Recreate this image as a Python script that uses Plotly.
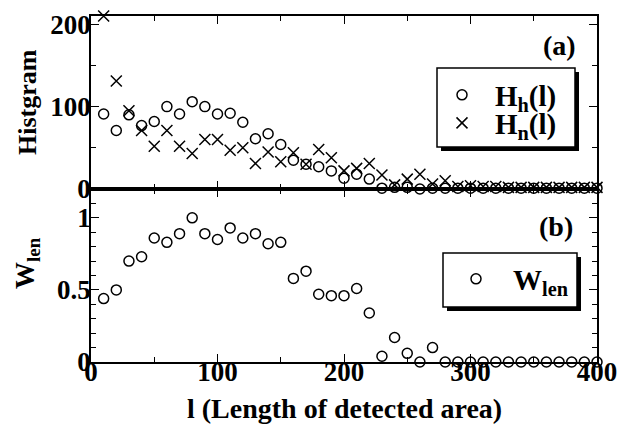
import plotly.graph_objects as go

# ---- data ----
lengths = [10, 20, 30, 40, 50, 60, 70, 80, 90, 100, 110, 120, 130, 140, 150, 160, 170, 180, 190, 200,
           210, 220, 230, 240, 250, 260, 270, 280, 290, 300, 310, 320, 330, 340, 350, 360, 370, 380, 390, 400]
H_h = [91, 71, 90, 77, 82, 100, 91, 106, 100, 91, 92, 81, 61, 67, 54, 35, 30, 27, 22, 13,
       18, 12, 1, 2, 2, 0, 1, 1, 1, 1, 1, 1, 1, 1, 1, 1, 1, 1, 1, 1]
H_n = [210, 131, 95, 71, 52, 71, 52, 43, 60, 60, 47, 50, 31, 45, 33, 44, 30, 48, 38, 22,
       25, 31, 17, 5, 12, 18, 6, 10, 3, 4, 3, 3, 2, 2, 2, 2, 2, 2, 2, 2]
W_len = [0.44, 0.50, 0.70, 0.73, 0.86, 0.83, 0.89, 1.00, 0.89, 0.85, 0.93, 0.86, 0.89, 0.82, 0.83, 0.58,
         0.63, 0.47, 0.46, 0.46, 0.51, 0.34, 0.04, 0.17, 0.06, 0.00, 0.10, 0, 0, 0, 0, 0, 0, 0, 0, 0, 0, 0, 0, 0]

x_ticks = [0, 100, 200, 300, 400]
hist_ticks = [0, 100, 200]
w_ticks = [0, 0.5, 1]

FONT = "Liberation Serif, Times New Roman, Times, serif"
W, H = 617, 433
ML, MR, MT, MB = 91, 20, 16, 71
pw, ph = W - ML - MR, H - MT - MB


def px_to_paper(px, py):
    return (px - ML) / pw, 1 - (py - MT) / ph


fig = go.Figure()
circ = dict(symbol="circle-open", size=10, color="black", line=dict(width=1.5, color="black"))
cross = dict(symbol="x-thin-open", size=11, color="black", line=dict(width=1.5, color="black"))

fig.add_trace(go.Scatter(x=lengths, y=H_h, mode="markers", marker=circ, name="H<sub>h</sub>(l)",
                         xaxis="x2", yaxis="y", cliponaxis=False, legend="legend"))
fig.add_trace(go.Scatter(x=lengths, y=H_n, mode="markers", marker=cross, name="H<sub>n</sub>(l)",
                         xaxis="x2", yaxis="y", cliponaxis=False, legend="legend3"))
fig.add_trace(go.Scatter(x=lengths, y=W_len, mode="markers", marker=circ, name="W<sub>len</sub>",
                         xaxis="x", yaxis="y2", cliponaxis=False, legend="legend2"))

tickfont = dict(family=FONT, size=27, color="black", weight="bold")
axcommon = dict(showgrid=False, zeroline=False, showline=True, linecolor="black", linewidth=1.5,
                ticks="inside", tickcolor="black", tickwidth=1.2, mirror="allticks", tickfont=tickfont,
                ticklabeloverflow="allow", automargin=False)
minor_x = dict(ticks="inside", dtick=50, ticklen=5, tickcolor="black", tickwidth=1.2)

fig.update_layout(
    width=W, height=H, margin=dict(l=ML, r=MR, t=MT, b=MB, autoexpand=False),
    paper_bgcolor="white", plot_bgcolor="white",
    font=dict(family=FONT, color="black"),
    xaxis=dict(**axcommon, domain=[0, 1], anchor="y2", range=[0, 400], tickvals=x_ticks, ticklen=8,
               ticklabelstandoff=-15, minor=minor_x),
    xaxis2=dict(**axcommon, domain=[0, 1], anchor="y", range=[0, 400], tickvals=x_ticks, ticklen=8,
                showticklabels=False, matches="x", minor=minor_x),
    yaxis=dict(**axcommon, domain=[0.5, 1], anchor="x2", range=[0, 210], tickvals=hist_ticks, ticklen=8,
               ticklabelstandoff=-7,
               minor=dict(ticks="inside", dtick=50, ticklen=5, tickcolor="black", tickwidth=1.2)),
    yaxis2=dict(**axcommon, domain=[0, 0.5], anchor="x", range=[0, 1.2], tickvals=w_ticks, ticklen=8,
                ticklabelstandoff=-7,
                minor=dict(ticks="inside", dtick=0.1, ticklen=5, tickcolor="black", tickwidth=1.2)),
    showlegend=True,
)

# legend boxes (white box with black border + drop shadow) drawn as shapes; plotly legends inside
for (x0, y0, x1, y1) in [(437, 68, 575, 147), (443, 253, 577, 307)]:
    s0, t0 = px_to_paper(x0 + 4, y1 + 4)
    s1, t1 = px_to_paper(x1 + 4, y0 + 4)
    fig.add_shape(type="rect", xref="paper", yref="paper", x0=s0, y0=t0, x1=s1, y1=t1,
                  fillcolor="black", line=dict(width=0), layer="above")
    a0, b0 = px_to_paper(x0, y1)
    a1, b1 = px_to_paper(x1, y0)
    fig.add_shape(type="rect", xref="paper", yref="paper", x0=a0, y0=b0, x1=a1, y1=b1,
                  fillcolor="white", line=dict(width=1.5, color="black"), layer="above")

legfont = dict(family=FONT, size=29, color="black", weight="bold")
legbase = dict(bgcolor="rgba(0,0,0,0)", borderwidth=0, font=legfont, xanchor="left", yanchor="middle",
               tracegroupgap=0)
l1x, l1y = px_to_paper(429, 95)
l3x, l3y = px_to_paper(429, 123)
l2x, l2y = px_to_paper(439, 279)
fig.update_layout(
    legend=dict(**legbase, itemwidth=56, x=l1x, y=l1y),
    legend3=dict(**legbase, itemwidth=56, x=l3x, y=l3y),
    legend2=dict(**legbase, itemwidth=64, x=l2x, y=l2y),
)

anns = [
    ("(a)", 559, 45, 0, 28),
    ("(b)", 556, 226, 0, 28),
    ("Histgram", 27, 102, -90, 26),
    ("W<sub>len</sub>", 27, 263, -90, 27),
    ("l (Length of detected area)", 344, 408, 0, 28),
]
for text, px, py, ang, fs in anns:
    ax_, ay_ = px_to_paper(px, py)
    fig.add_annotation(xref="paper", yref="paper", showarrow=False, xanchor="center", yanchor="middle",
                       x=ax_, y=ay_, text=text, textangle=ang,
                       font=dict(family=FONT, size=fs, color="black", weight="bold"))

fig.write_html("out.html")
